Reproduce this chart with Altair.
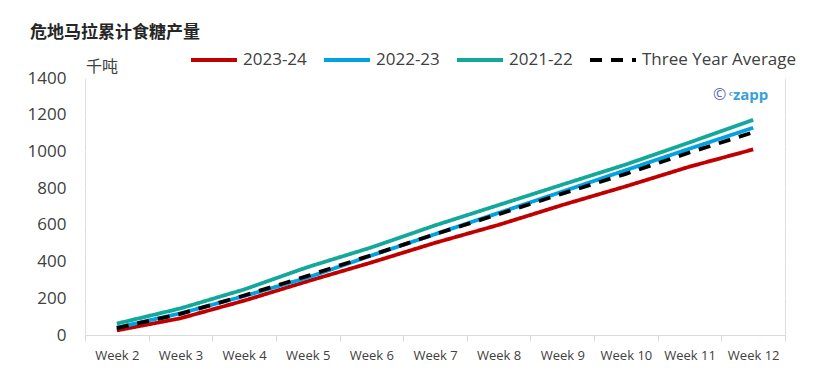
import altair as alt
import pandas as pd

weeks = ["Week 2", "Week 3", "Week 4", "Week 5", "Week 6", "Week 7",
         "Week 8", "Week 9", "Week 10", "Week 11", "Week 12"]
s2023_24 = [25, 91, 187, 293, 395, 502, 600, 708, 810, 917, 1011]
s2022_23 = [40, 118, 212, 313, 433, 549, 665, 781, 898, 1015, 1129]
s2021_22 = [62, 145, 248, 370, 477, 597, 708, 819, 929, 1049, 1172]
s_avg = [38, 115, 215, 322, 435, 549, 658, 770, 878, 994, 1104]

series_names = ["2023-24", "2022-23", "2021-22", "Three Year Average"]
series_colors = ["#C00000", "#00A2E1", "#14A89A", "#000000"]
series_dash = [[1, 0], [1, 0], [1, 0], [12, 9]]

rows = []
for name, vals in zip(series_names, [s2023_24, s2022_23, s2021_22, s_avg]):
    for w, v in zip(weeks, vals):
        rows.append({"week": w, "value": v, "series": name})
df = pd.DataFrame(rows)

FONT = "Open Sans"
CJK = "Noto Sans CJK SC"


def make_legend():
    return alt.Legend(title=None, orient="none", legendX=104, legendY=-43,
                      direction="horizontal", symbolType="stroke",
                      symbolStrokeWidth=4, symbolSize=2116,
                      labelFont=FONT, labelFontSize=17, labelColor="#404040",
                      labelOffset=4, columnPadding=9)


lines = alt.Chart(df).mark_line(strokeWidth=3.8).encode(
    x=alt.X("week:N", sort=weeks, title=None,
            scale=alt.Scale(type="band", paddingInner=0, paddingOuter=0),
            bandPosition=0.5,
            axis=alt.Axis(labelAngle=0, tickBand="extent", domainColor="#D9D9D9",
                          tickColor="#D9D9D9", tickSize=6, labelPadding=8,
                          labelFont=FONT, labelFontSize=13, labelColor="#404040",
                          grid=False)),
    y=alt.Y("value:Q", title=None,
            scale=alt.Scale(domain=[0, 1400], nice=False),
            axis=alt.Axis(values=list(range(0, 1401, 200)), format="d", ticks=False,
                          domain=False, labelPadding=19, labelFont=FONT, labelFontSize=17,
                          labelColor="#404040", gridColor="#FFFFFF", gridWidth=1.5)),
    color=alt.Color("series:N", sort=series_names,
                    scale=alt.Scale(domain=series_names, range=series_colors),
                    legend=make_legend()),
    strokeDash=alt.StrokeDash("series:N", sort=series_names,
                              scale=alt.Scale(domain=series_names, range=series_dash),
                              legend=make_legend()),
)

title_text = alt.Chart(pd.DataFrame({"t": ["危地马拉累计食糖产量"]})).mark_text(
    align="left", baseline="middle", font=CJK, fontSize=17, fontWeight="bold", color="#262626"
).encode(text="t:N", x=alt.value(-55), y=alt.value(-45))

unit_text = alt.Chart(pd.DataFrame({"t": ["千吨"]})).mark_text(
    align="left", baseline="middle", font=CJK, fontSize=16, color="#404040"
).encode(text="t:N", x=alt.value(1), y=alt.value(-11))

copy_text = alt.Chart(pd.DataFrame({"t": ["©"]})).mark_text(
    align="left", baseline="middle", font=FONT, fontSize=16, color="#6367B0"
).encode(text="t:N", x=alt.value(628), y=alt.value(17))

czapp_text = alt.Chart(pd.DataFrame({"t": ["ᶜzapp"]})).mark_text(
    align="left", baseline="middle", font=FONT, fontSize=15, fontWeight="bold", color="#3A9FDB"
).encode(text="t:N", x=alt.value(644), y=alt.value(17))

chart = alt.layer(lines, title_text, unit_text, copy_text, czapp_text).properties(
    width=700, height=257,
    autosize=alt.AutoSizeParams(type="none"),
    padding={"left": 77, "top": 70, "right": 38, "bottom": 46},
).configure_view(fill="#F2F2F2", stroke=None).configure(background="#FFFFFF")

chart.save("out.html", embed_options={"renderer": "svg", "actions": False})
